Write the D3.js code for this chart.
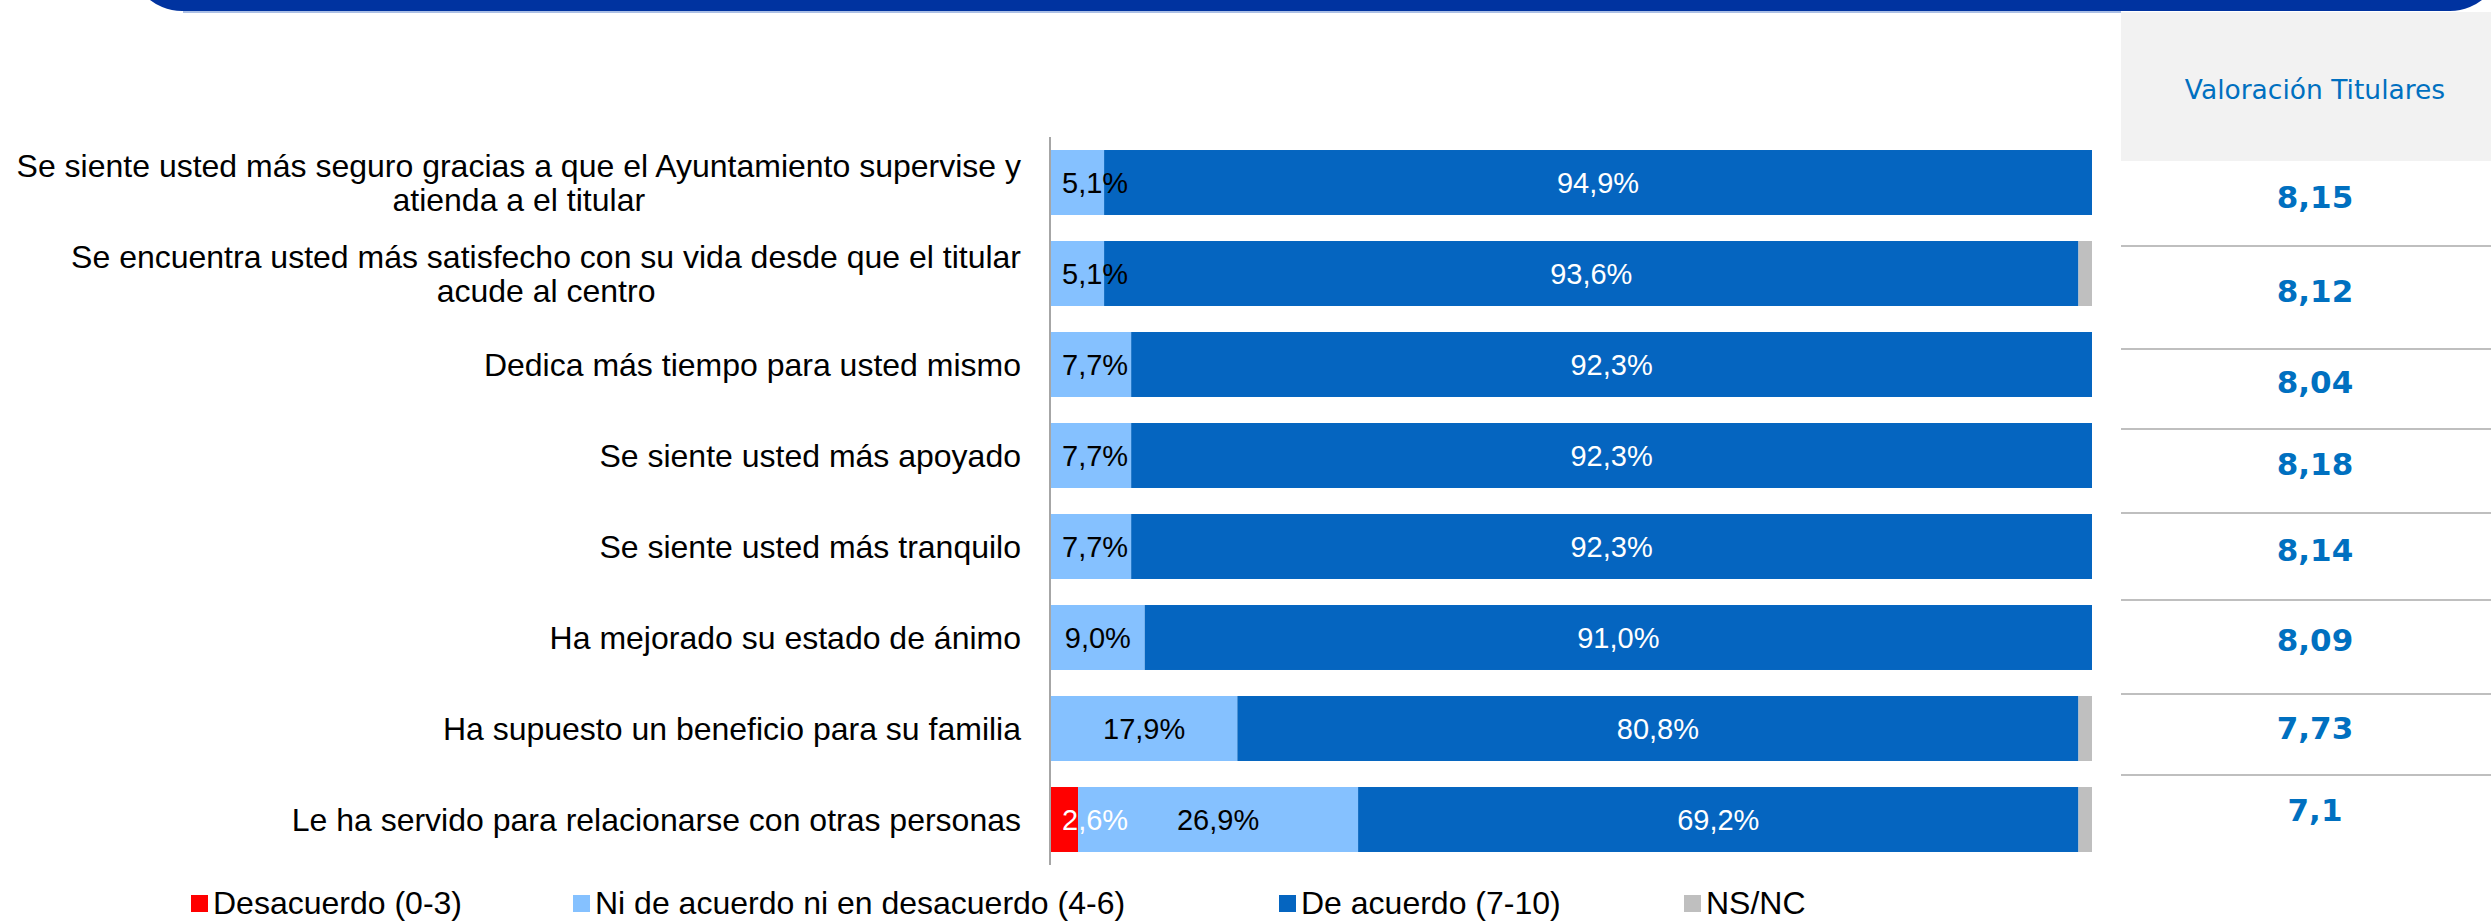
<!DOCTYPE html>
<html>
<head>
<meta charset="utf-8">
<script src="https://cdn.jsdelivr.net/npm/d3@7"></script>
<style>
  body { margin: 0; background: #fff; }
  svg { display: block; }
  .cat { font-family: "Liberation Sans", Arial, sans-serif; font-size: 32px; fill: #000; }
  .lbl { font-family: "Liberation Sans", Arial, sans-serif; font-size: 29px; }
  .leg { font-family: "Liberation Sans", Arial, sans-serif; font-size: 32px; fill: #000; }
  .tbl-head { font-family: "DejaVu Sans", Verdana, sans-serif; font-size: 26.5px; fill: #0070C0; }
  .tbl-val { font-family: "DejaVu Sans", Verdana, sans-serif; font-size: 31px; font-weight: bold; fill: #0070C0; }
</style>
</head>
<body>
<svg id="chart" width="2491" height="921"></svg>
<script>
// categories, "|" marks the line break used in the picture
const categories = [
  "Se siente usted más seguro gracias a que el Ayuntamiento supervise y|atienda a el titular",
  "Se encuentra usted más satisfecho con su vida desde que el titular|acude al centro",
  "Dedica más tiempo para usted mismo",
  "Se siente usted más apoyado",
  "Se siente usted más tranquilo",
  "Ha mejorado su estado de ánimo",
  "Ha supuesto un beneficio para su familia",
  "Le ha servido para relacionarse con otras personas"
];
const desacuerdo = [0, 0, 0, 0, 0, 0, 0, 2.6];
const neutral    = [5.1, 5.1, 7.7, 7.7, 7.7, 9.0, 17.9, 26.9];
const acuerdo    = [94.9, 93.6, 92.3, 92.3, 92.3, 91.0, 80.8, 69.2];
const nsnc       = [0, 1.3, 0, 0, 0, 0, 1.3, 1.3];
const valoracion = [8.15, 8.12, 8.04, 8.18, 8.14, 8.09, 7.73, 7.1];

const seriesNames = ["Desacuerdo (0-3)", "Ni de acuerdo ni en desacuerdo (4-6)", "De acuerdo (7-10)", "NS/NC"];
const seriesKeys = ["des", "neu", "acu", "ns"];
const colors = { des: "#FF0000", neu: "#85C1FF", acu: "#0565C0", ns: "#BFBFBF" };
const labelColors = { des: "#FFFFFF", neu: "#000000", acu: "#FFFFFF" };

const svg = d3.select("#chart");

// header banner
svg.append("rect")
  .attr("x", 130).attr("y", -200).attr("width", 2372).attr("height", 211)
  .attr("rx", 52).attr("fill", "#0033A0");
svg.append("line")
  .attr("x1", 183).attr("x2", 2121).attr("y1", 12).attr("y2", 12)
  .attr("stroke", "#8FAADC").attr("stroke-width", 1.5);

const rows = categories.map((c, i) => ({
  cat: c, des: desacuerdo[i], neu: neutral[i], acu: acuerdo[i], ns: nsnc[i]
}));

const x = d3.scaleLinear().domain([0, 100]).range([1051, 2092]);
const y = d3.scaleBand().domain(categories).range([137, 865])
  .paddingInner(0.286).paddingOuter(0.143);

const stack = d3.stack().keys(seriesKeys)(rows);

const layers = svg.append("g").selectAll("g")
  .data(stack).enter().append("g")
  .attr("fill", d => colors[d.key]);

layers.selectAll("rect")
  .data(d => d)
  .enter().append("rect")
  .attr("x", d => x(d[0]))
  .attr("y", d => y(d.data.cat))
  .attr("width", d => x(d[1]) - x(d[0]))
  .attr("height", y.bandwidth());

// data labels
const fmt = v => d3.format(".1f")(v).replace(".", ",") + "%";
stack.filter(s => s.key !== "ns").forEach(s => {
  s.forEach(d => {
    const v = d[1] - d[0];
    if (v <= 0) return;
    const t = svg.append("text")
      .attr("class", "lbl")
      .attr("fill", labelColors[s.key])
      .attr("text-anchor", "middle")
      .attr("dominant-baseline", "central")
      .attr("y", y(d.data.cat) + y.bandwidth() / 2)
      .text(fmt(v));
    const w = t.node().getComputedTextLength();
    const cx = (x(d[0]) + x(d[1])) / 2;
    t.attr("x", Math.max(cx, x(d[0]) + w / 2 + 11));
  });
});

// axis line
svg.append("line")
  .attr("x1", 1050).attr("x2", 1050)
  .attr("y1", y.range()[0]).attr("y2", y.range()[1])
  .attr("stroke", "#A6A6A6").attr("stroke-width", 2);

// category labels
const labelRight = 1021;
const lineH = 34;
categories.forEach(c => {
  const lines = c.split("|");
  const t = svg.append("text").attr("class", "cat").attr("text-anchor", "middle");
  const cy = y(c) + y.bandwidth() / 2;
  lines.forEach((l, k) => {
    t.append("tspan")
      .attr("y", cy + (k - (lines.length - 1) / 2) * lineH)
      .attr("dominant-baseline", "central")
      .text(l);
  });
  let maxW = 0;
  t.selectAll("tspan").each(function() { maxW = Math.max(maxW, this.getComputedTextLength()); });
  t.selectAll("tspan").attr("x", labelRight - maxW / 2);
});

// legend
const legX = [191, 573, 1279, 1684];
const leg = svg.append("g").selectAll("g")
  .data(seriesKeys).enter().append("g")
  .attr("transform", (d, i) => `translate(${legX[i]},0)`);
leg.append("rect")
  .attr("x", 0).attr("y", 895).attr("width", 17).attr("height", 17)
  .attr("fill", d => colors[d]);
leg.append("text")
  .attr("class", "leg")
  .attr("x", 22).attr("y", 914)
  .text((d, i) => seriesNames[i]);

// right table: Valoración Titulares
svg.append("rect")
  .attr("x", 2121).attr("y", 12).attr("width", 370).attr("height", 149)
  .attr("fill", "#F2F2F2");
svg.append("text")
  .attr("class", "tbl-head")
  .attr("x", 2315).attr("y", 99)
  .attr("text-anchor", "middle")
  .text("Valoración Titulares");

const tableRows = [161, 246, 349, 429, 513, 600, 694, 775, 858];
svg.append("g").selectAll("line")
  .data(tableRows.slice(1, -1)).enter().append("line")
  .attr("x1", 2121).attr("x2", 2491)
  .attr("y1", d => d).attr("y2", d => d)
  .attr("stroke", "#BFBFBF").attr("stroke-width", 2);

svg.append("g").selectAll("text")
  .data(valoracion).enter().append("text")
  .attr("class", "tbl-val")
  .attr("text-anchor", "middle")
  .attr("x", 2315)
  .attr("y", (d, i) => (tableRows[i] + tableRows[i + 1]) / 2 + 4)
  .text(d => String(d).replace(".", ","));
</script>
</body>
</html>
